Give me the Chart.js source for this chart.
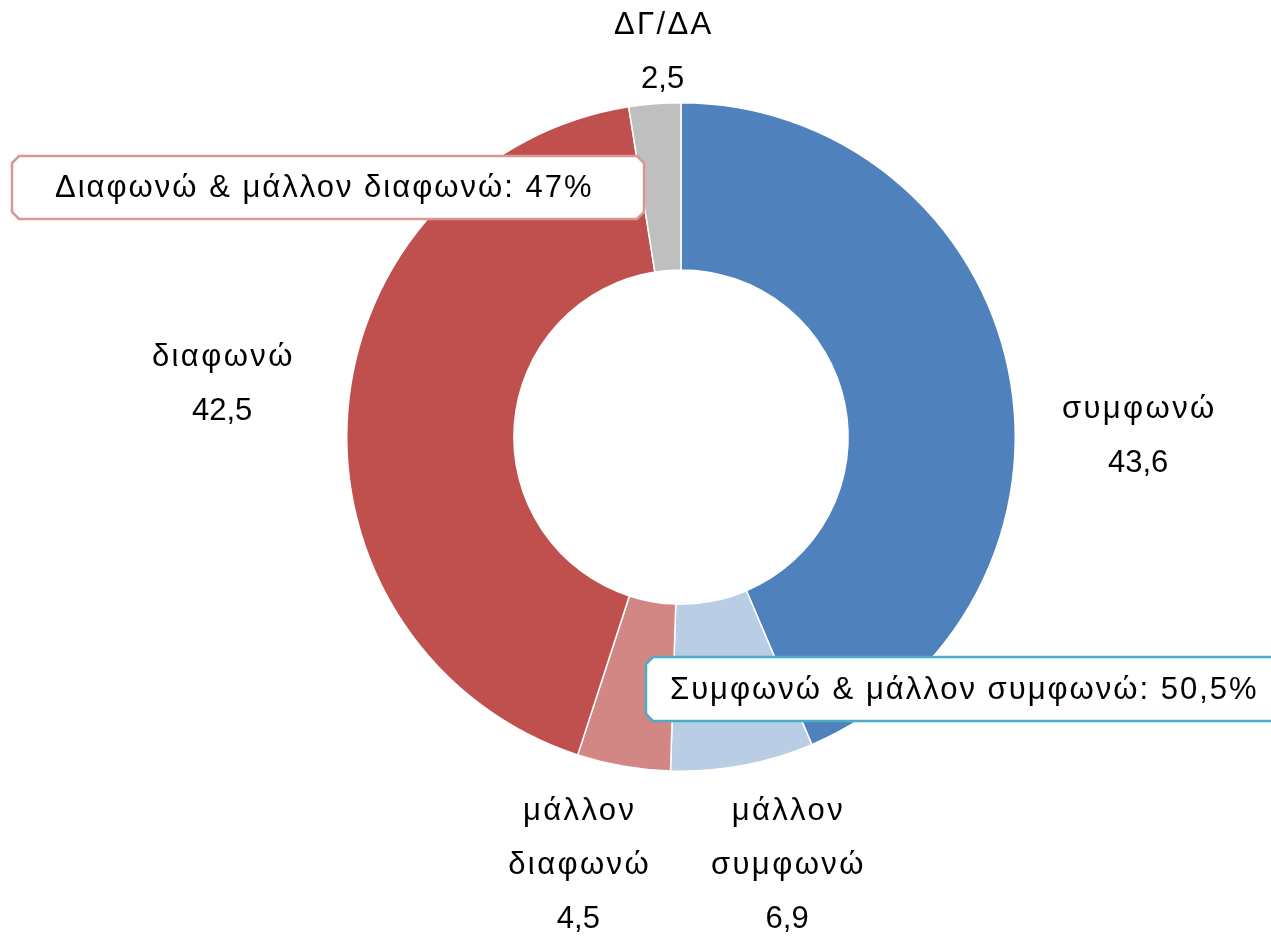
<!DOCTYPE html>
<html>
<head>
<meta charset="utf-8">
<script src="https://cdn.jsdelivr.net/npm/chart.js@4/dist/chart.umd.min.js"></script>
<style>
  html, body { margin: 0; padding: 0; background: #fff; }
  #wrap { width: 1271px; height: 939px; position: relative; }
</style>
</head>
<body>
<div id="wrap"><canvas id="chart"></canvas></div>
<script>
// Δεδομένα
const categories = ["συμφωνώ", "μάλλον συμφωνώ", "μάλλον διαφωνώ", "διαφωνώ", "ΔΓ/ΔΑ"];
const values = [43.6, 6.9, 4.5, 42.5, 2.5];
const labelLines = [["συμφωνώ"], ["μάλλον", "συμφωνώ"], ["μάλλον", "διαφωνώ"], ["διαφωνώ"], ["ΔΓ/ΔΑ"]];
const colors = ["#4F81BD", "#B9CDE5", "#D38784", "#C0504D", "#BFBFBF"];

// Ομάδες για τα πλαίσια
const agreeIdx = [0, 1];
const disagreeIdx = [2, 3];

// μετατόπιση ετικετών (layout μόνο)
const labelNudge = [[15, 90], [23, -15], [-25, -16], [-9, -17], [17, 65]];

function fmt(v) {
  return String(Math.round(v * 10) / 10).replace(".", ",");
}
function sum(idx) {
  return idx.reduce((s, i) => s + values[i], 0);
}

const callouts = [
  { text: "Διαφωνώ & μάλλον διαφωνώ: " + fmt(sum(disagreeIdx)) + "%", x: 12, y: 156, w: 632, h: 63, tx: 55, border: "#D99694" },
  { text: "Συμφωνώ & μάλλον συμφωνώ: " + fmt(sum(agreeIdx)) + "%", x: 646, y: 657, w: 640, h: 64, tx: 670, border: "#4BACC6" }
];

const FONT = "'Liberation Sans', Arial, sans-serif";

function drawBox(ctx, b) {
  const c = 7;
  ctx.beginPath();
  ctx.moveTo(b.x + c, b.y);
  ctx.lineTo(b.x + b.w - c, b.y);
  ctx.lineTo(b.x + b.w, b.y + c);
  ctx.lineTo(b.x + b.w, b.y + b.h - c);
  ctx.lineTo(b.x + b.w - c, b.y + b.h);
  ctx.lineTo(b.x + c, b.y + b.h);
  ctx.lineTo(b.x, b.y + b.h - c);
  ctx.lineTo(b.x, b.y + c);
  ctx.closePath();
  ctx.fillStyle = "#fff";
  ctx.fill();
  ctx.lineWidth = 2.5;
  ctx.strokeStyle = b.border;
  ctx.stroke();
}

const labelsPlugin = {
  id: "outLabels",
  afterDatasetsDraw(chart) {
    const ctx = chart.ctx;
    const meta = chart.getDatasetMeta(0);
    ctx.save();
    ctx.fillStyle = "#000";
    ctx.textBaseline = "middle";
    ctx.textAlign = "center";
    meta.data.forEach((arc, i) => {
      const p = arc.getProps(["x", "y", "startAngle", "endAngle", "outerRadius"], true);
      const mid = (p.startAngle + p.endAngle) / 2;
      const r = p.outerRadius * 1.35;
      const cx = p.x + Math.cos(mid) * r + labelNudge[i][0];
      const cy = p.y + Math.sin(mid) * r + labelNudge[i][1];
      const lines = labelLines[i].concat([fmt(values[i])]);
      const lh = 54;
      lines.forEach((t, k) => {
        const isNum = k === lines.length - 1;
        ctx.font = "31px " + FONT;
        ctx.letterSpacing = isNum ? "0px" : "2.4px";
        const y = cy + (k - (lines.length - 1) / 2) * lh;
        ctx.fillText(t, cx + (isNum ? 0 : 1.2), y);
      });
    });
    // πλαίσια
    ctx.letterSpacing = "2px";
    ctx.textAlign = "left";
    callouts.forEach(b => {
      drawBox(ctx, b);
      ctx.fillStyle = "#000";
      ctx.font = "31px " + FONT;
      ctx.fillText(b.text, b.tx, b.y + b.h / 2 + 1);
    });
    ctx.restore();
  }
};

new Chart(document.getElementById("chart"), {
  type: "doughnut",
  data: {
    labels: categories,
    datasets: [{
      data: values,
      backgroundColor: colors,
      borderColor: "#fff",
      borderWidth: 1.5
    }]
  },
  options: {
    responsive: true,
    maintainAspectRatio: false,
    animation: false,
    cutout: "50%",
    layout: { padding: { top: 102, bottom: 167, left: 346, right: 255 } },
    plugins: {
      legend: { display: false },
      tooltip: { enabled: false }
    }
  },
  plugins: [labelsPlugin]
});
</script>
</body>
</html>
